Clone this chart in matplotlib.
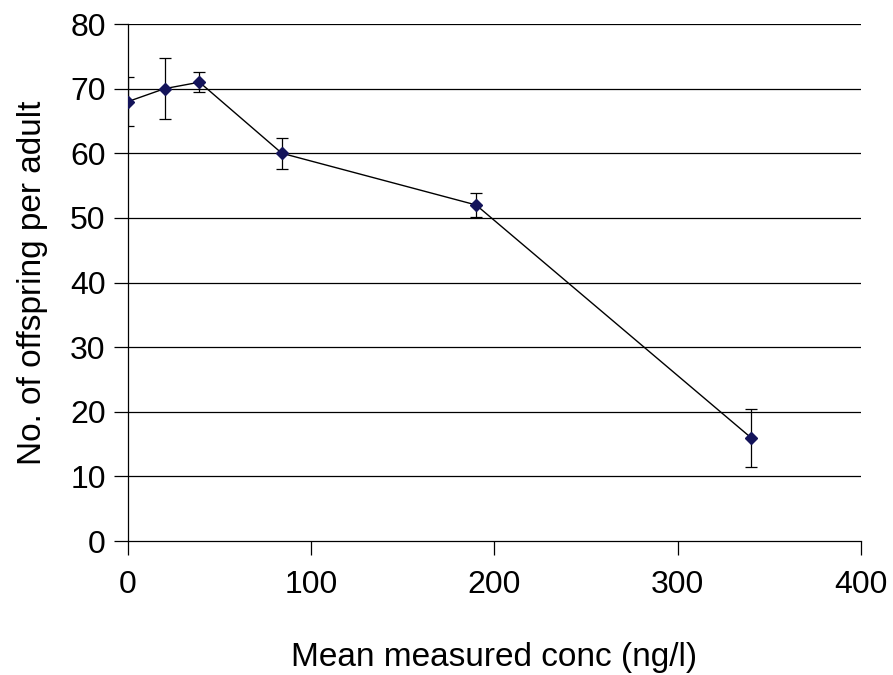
import matplotlib.pyplot as plt

plt.rcParams['font.family'] = ['Liberation Sans', 'DejaVu Sans']

# Mean measured concentration (ng/l) and offspring per adult
conc = [0, 20, 39, 84, 190, 340]
offspring = [68, 70, 71, 60, 52, 16]
err = [3.8, 4.7, 1.5, 2.4, 1.8, 4.5]

fig = plt.figure(figsize=(8.93, 6.75), dpi=100)
ax = fig.add_axes([0.1433, 0.1985, 0.8207, 0.7659])

for y in range(10, 90, 10):
    ax.axhline(y, color='black', lw=0.9, zorder=1)

ax.errorbar(conc, offspring, yerr=err, color='black', lw=1.0,
            ecolor='black', elinewidth=0.9, capsize=4, capthick=0.9,
            marker='D', markersize=6, markerfacecolor='#14145a',
            markeredgecolor='#14145a', zorder=3)

ax.set_xlim(0, 400)
ax.set_ylim(0, 80)
ax.set_xticks([0, 100, 200, 300, 400])
ax.set_yticks(range(0, 90, 10))
ax.tick_params(axis='both', labelsize=23, length=10, width=0.9, direction='out')
ax.tick_params(axis='x', pad=11)
ax.tick_params(axis='y', pad=6)

ax.spines['top'].set_visible(False)
ax.spines['right'].set_visible(False)
ax.spines['left'].set_linewidth(0.9)
ax.spines['bottom'].set_linewidth(0.9)

ax.set_xlabel('Mean measured conc (ng/l)', fontsize=24, labelpad=30)
ax.set_ylabel('No. of offspring per adult', fontsize=24, labelpad=16)

fig.savefig('out.png', dpi=100)
